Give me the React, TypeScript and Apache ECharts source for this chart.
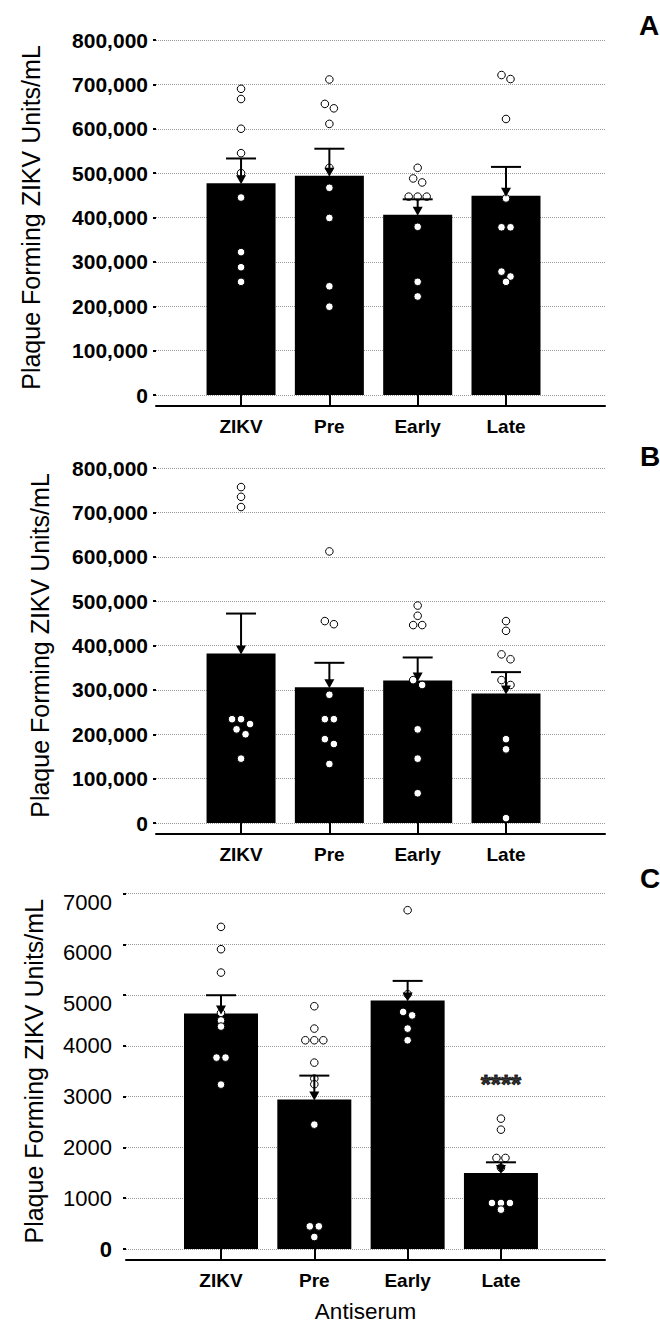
import React, { useEffect, useRef } from 'react';
import * as echarts from 'echarts';

// ---------- data ----------
const categories = ['ZIKV', 'Pre', 'Early', 'Late'];
const panelLetters = ['A', 'B', 'C'];

// Panel A
const aMeans = [477000, 494000, 406000, 449000];
const aSem = [56000, 61000, 35000, 65000];
const aZikv = [690000, 667000, 600000, 545000, 500000, 445000, 322000, 288000, 255000];
const aPre = [711000, 656000, 646000, 611000, 512000, 467000, 399000, 245000, 199000];
const aEarly = [512000, 488000, 479000, 447000, 447000, 447000, 379000, 255000, 222000];
const aLate = [721000, 712000, 622000, 443000, 378000, 378000, 278000, 267000, 255000];

// Panel B
const bMeans = [382000, 306000, 321000, 292000];
const bSem = [90000, 55000, 52000, 48000];
const bZikv = [757000, 735000, 712000, 234000, 234000, 223000, 211000, 200000, 145000];
const bPre = [612000, 455000, 448000, 289000, 234000, 234000, 189000, 178000, 133000];
const bEarly = [490000, 467000, 446000, 446000, 322000, 311000, 211000, 145000, 67000];
const bLate = [455000, 433000, 380000, 369000, 322000, 311000, 189000, 166000, 11000];

// Panel C
const cMeans = [4636, 2942, 4892, 1497];
const cSem = [361, 472, 387, 210];
const cZikv = [6343, 5903, 5443, 4650, 4500, 4380, 3769, 3769, 3237];
const cPre = [4780, 4340, 4110, 4110, 4110, 3670, 3355, 3244, 2449, 446, 446, 236];
const cEarly = [6671, 5016, 4668, 4600, 4340, 4110];
const cLate = [2567, 2350, 1793, 1793, 1600, 906, 906, 906, 775];

// significance annotation for panel C
const cAnnotation = { category: 'Late', value: 3250, text: '****' };

// axis ranges
const abYAxis = { min: 0, max: 800000, interval: 100000 };
const cYAxis = { min: 0, max: 7000, interval: 1000 };
const yAxisTitle = 'Plaque Forming ZIKV Units/mL';
const xAxisTitle = 'Antiserum';

// ---------- helpers ----------
const FONT = "'Liberation Sans', Arial, Helvetica, sans-serif";

function barSeries(idx: number, means: number[], width: number) {
  return {
    type: 'bar',
    xAxisIndex: idx,
    yAxisIndex: idx,
    barWidth: width,
    itemStyle: { color: '#000' },
    z: 2,
    data: means.map((m, i) => [i, m]),
  };
}

function pointSeries(idx: number, groups: number[][]) {
  return {
    type: 'custom',
    xAxisIndex: idx,
    yAxisIndex: idx,
    z: 3,
    encode: { x: 0, y: 1 },
    data: groups.map((g, i) => [i, Math.max(...g)]),
    renderItem: (params: any, api: any) => {
      const i = api.value(0);
      const vals = groups[i].slice().sort((a, b) => b - a);
      const pts = vals.map((v) => api.coord([i, v]));
      const rows: number[][][] = [];
      pts.forEach((p: number[]) => {
        const r = rows[rows.length - 1];
        if (r && Math.abs(p[1] - r[0][1]) < 5.5) r.push(p);
        else rows.push([p]);
      });
      const children: any[] = [];
      rows.forEach((r) =>
        r.forEach((p, k) =>
          children.push({
            type: 'circle',
            shape: { cx: p[0] + (k - (r.length - 1) / 2) * 9, cy: p[1], r: 3.8 },
            style: { fill: '#fff', stroke: '#000', lineWidth: 1 },
          })
        )
      );
      return { type: 'group', children };
    },
  };
}

function errorSeries(idx: number, means: number[], sem: number[]) {
  return {
    type: 'custom',
    xAxisIndex: idx,
    yAxisIndex: idx,
    z: 4,
    encode: { x: 0, y: 2 },
    data: means.map((m, i) => [i, m, m + sem[i]]),
    renderItem: (params: any, api: any) => {
      const x = api.value(0);
      const pm = api.coord([x, api.value(1)]);
      const ph = api.coord([x, api.value(2)]);
      const st = { stroke: '#000', lineWidth: 2 };
      return {
        type: 'group',
        children: [
          { type: 'line', shape: { x1: ph[0], y1: ph[1], x2: pm[0], y2: pm[1] - 4 }, style: st },
          { type: 'line', shape: { x1: ph[0] - 15, y1: ph[1], x2: ph[0] + 15, y2: ph[1] }, style: st },
          {
            type: 'polygon',
            shape: { points: [[pm[0] - 5, pm[1] - 8], [pm[0] + 5, pm[1] - 8], [pm[0], pm[1] + 1]] },
            style: { fill: '#000' },
          },
        ],
      };
    },
  };
}

function xAxisCfg(idx: number, min: number, max: number, withName: boolean) {
  return {
    type: 'value',
    gridIndex: idx,
    min,
    max,
    offset: 11,
    axisLine: { show: true, onZero: false, lineStyle: { color: '#000', width: 2 } },
    axisTick: {
      show: true,
      inside: true,
      length: 11,
      customValues: categories.map((_, i) => i),
      lineStyle: { color: '#000', width: 2 },
    },
    axisLabel: {
      customValues: categories.map((_, i) => i),
      formatter: (v: number) => categories[Math.round(v)] ?? '',
      color: '#000',
      fontFamily: FONT,
      fontWeight: 'bold',
      fontSize: 19,
      margin: 11,
    },
    splitLine: { show: false },
    name: withName ? xAxisTitle : '',
    nameLocation: 'middle',
    nameGap: 40,
    nameTextStyle: { color: '#000', fontFamily: FONT, fontSize: 22.5 },
  };
}

function yAxisCfg(idx: number, range: any, nameGap: number, labelCfg: any) {
  return {
    type: 'value',
    gridIndex: idx,
    min: range.min,
    max: range.max,
    interval: range.interval,
    axisLine: { show: false, onZero: false },
    axisTick: { show: true, length: 3, lineStyle: { color: '#000', width: 2 } },
    splitLine: { show: true, lineStyle: { type: 'dotted', color: '#9a9a9a', width: 1 } },
    axisLabel: labelCfg,
    name: yAxisTitle,
    nameLocation: 'middle',
    nameGap,
    nameTextStyle: { color: '#000', fontFamily: FONT, fontSize: 25 },
  };
}

export default function App() {
  const ref = useRef<HTMLDivElement>(null);

  useEffect(() => {
    if (!ref.current) return;
    const chart = echarts.init(ref.current, undefined, { renderer: 'svg' });

    const abLabel = {
      formatter: (v: number) => v.toLocaleString('en-US'),
      color: '#000',
      fontFamily: FONT,
      fontWeight: 'bold',
      fontSize: 21,
      margin: 8,
    };
    const cLabel = {
      formatter: (v: number) =>
        v === 0 ? '{z|0}' : v >= 5000 ? `{e| }\n{n|${v}}` : `{n|${v}}`,
      color: '#000',
      fontFamily: FONT,
      fontSize: 22,
      margin: 14,
      rich: {
        n: { fontSize: 22, lineHeight: 22, fontFamily: FONT, color: '#000' },
        e: { fontSize: 8, lineHeight: 17, fontFamily: FONT, color: '#000' },
        z: { fontSize: 22, lineHeight: 22, fontFamily: FONT, fontWeight: 'bold', color: '#000' },
      },
    };

    const lateIdx = categories.indexOf(cAnnotation.category);

    const option: any = {
      animation: false,
      backgroundColor: '#fff',
      grid: [
        { left: 156, width: 449, top: 40, height: 355 },
        { left: 156, width: 449, top: 468, height: 355 },
        { left: 126, width: 479, top: 893.5, height: 355.5 },
      ],
      xAxis: [
        xAxisCfg(0, -0.963, 4.121, false),
        xAxisCfg(1, -0.963, 4.121, false),
        xAxisCfg(2, -1.018, 4.115, true),
      ],
      yAxis: [
        yAxisCfg(0, abYAxis, 113, abLabel),
        yAxisCfg(1, abYAxis, 104, abLabel),
        yAxisCfg(2, cYAxis, 80, cLabel),
      ],
      series: [
        barSeries(0, aMeans, 69),
        pointSeries(0, [aZikv, aPre, aEarly, aLate]),
        errorSeries(0, aMeans, aSem),
        barSeries(1, bMeans, 69),
        pointSeries(1, [bZikv, bPre, bEarly, bLate]),
        errorSeries(1, bMeans, bSem),
        barSeries(2, cMeans, 74),
        pointSeries(2, [cZikv, cPre, cEarly, cLate]),
        errorSeries(2, cMeans, cSem),
        {
          type: 'scatter',
          xAxisIndex: 2,
          yAxisIndex: 2,
          symbolSize: 0,
          z: 5,
          silent: true,
          data: [[lateIdx, cAnnotation.value]],
          label: {
            show: true,
            position: 'inside',
            formatter: cAnnotation.text,
            color: '#000',
            fontFamily: FONT,
            fontWeight: 'bold',
            fontSize: 26,
            textBorderColor: '#000',
            textBorderWidth: 1,
          },
        },
      ],
      graphic: [
        { type: 'text', x: 649, y: 25, style: { text: panelLetters[0], fill: '#000', font: `bold 28px ${FONT}`, align: 'center', verticalAlign: 'middle' } },
        { type: 'text', x: 650, y: 456, style: { text: panelLetters[1], fill: '#000', font: `bold 28px ${FONT}`, align: 'center', verticalAlign: 'middle' } },
        { type: 'text', x: 650, y: 878, style: { text: panelLetters[2], fill: '#000', font: `bold 28px ${FONT}`, align: 'center', verticalAlign: 'middle' } },
      ],
    };

    chart.setOption(option);
    return () => chart.dispose();
  }, []);

  return (
    <div
      ref={ref}
      style={{ position: 'absolute', left: 0, top: 0, width: 660, height: 1325, background: '#fff' }}
    />
  );
}
